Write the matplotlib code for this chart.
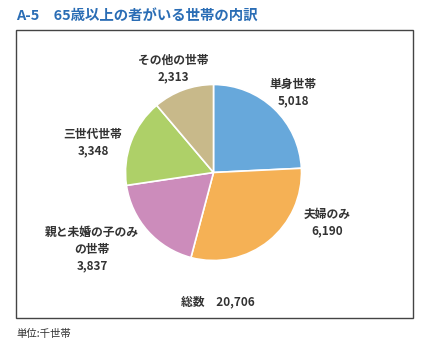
import matplotlib
matplotlib.use("Agg")
import matplotlib.pyplot as plt
from matplotlib.patches import Rectangle

plt.rcParams['font.family'] = ['Noto Sans CJK JP', 'DejaVu Sans']

categories = ['単身世帯', '夫婦のみ', '親と未婚の子のみ\nの世帯', '三世代世帯', 'その他の世帯']
values = [5018, 6190, 3837, 3348, 2313]
value_labels = ['5,018', '6,190', '3,837', '3,348', '2,313']
colors = ['#67a8db', '#f5b155', '#cc8cbb', '#aed068', '#c8b98a']
total_label = '総数\u3000' + f'{sum(values):,}'
title = 'A-5\u300065歳以上の者がいる世帯の内訳'
unit = '単位:千世帯'

W, H = 421, 350
fig = plt.figure(figsize=(W / 100, H / 100), dpi=100)

# overlay axes in pixel coordinates
bg = fig.add_axes([0, 0, 1, 1])
bg.set_xlim(0, W)
bg.set_ylim(H, 0)
bg.axis('off')

bg.text(16, 16, title, fontsize=10.4, fontweight='bold', color='#2a6db5',
        ha='left', va='center')
bg.add_patch(Rectangle((16, 30), 397, 288, fill=False, edgecolor='#444444', lw=1.0))
bg.text(16, 334, unit, fontsize=7.5, color='#333333', ha='left', va='center')

# pie
cx, cy, r = 213.5, 172.5, 88
pax = fig.add_axes([(cx - r) / W, (H - cy - r) / H, 2 * r / W, 2 * r / H])
pax.pie(values, colors=colors, startangle=90, counterclock=False,
        wedgeprops=dict(edgecolor='white', linewidth=1.2), radius=1)
pax.set_xlim(-1, 1)
pax.set_ylim(-1, 1)
pax.set_aspect('equal')
pax.axis('off')

label_pos = [(293, 93), (327, 223), (92, 249), (93, 143), (173, 69)]
for (x, y), cat, v in zip(label_pos, categories, value_labels):
    bg.text(x, y, cat + '\n' + v, fontsize=8.5, fontweight='bold', color='#333333',
            ha='center', va='center', linespacing=1.35)

bg.text(218, 302, total_label, fontsize=8.5, fontweight='bold', color='#333333',
        ha='center', va='center')

fig.savefig('out.png', dpi=100)
